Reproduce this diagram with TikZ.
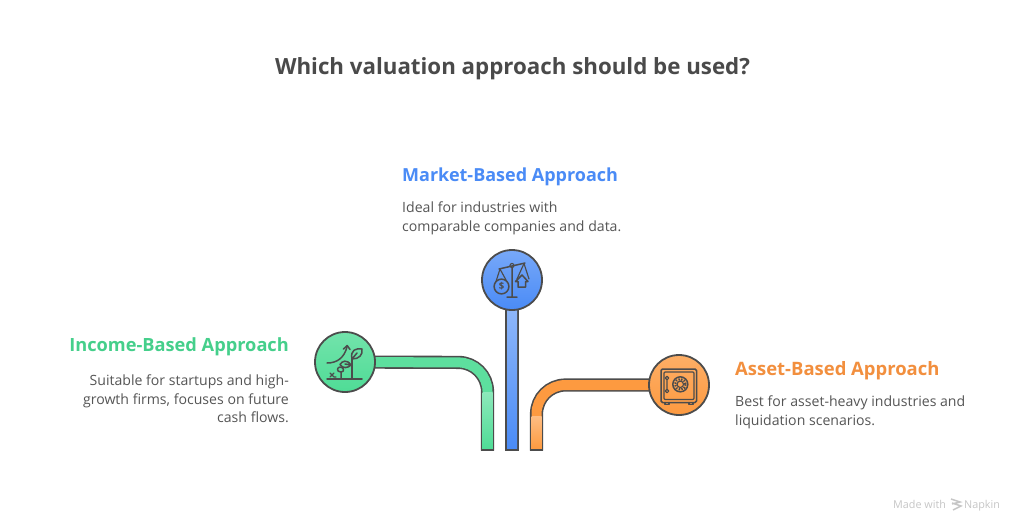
\documentclass[tikz,border=0pt]{standalone}
\usepackage{fontspec}
\setmainfont{Open Sans}
\definecolor{ink}{HTML}{4C4C4C}
\definecolor{titlec}{HTML}{4A4A4A}
\definecolor{bodyc}{HTML}{555555}
\definecolor{greenc}{HTML}{4FDC96}
\definecolor{bluec}{HTML}{4A8BF6}
\definecolor{orangec}{HTML}{FD9A40}
\definecolor{greenh}{HTML}{45CF8B}
\definecolor{orangeh}{HTML}{F28F3E}
\definecolor{markc}{HTML}{C6C6C6}
\tikzset{
  x=1pt,y=-1pt,
  headtext/.style={inner sep=0pt,font=\fontsize{#1}{22}\selectfont\bfseries},
  desctext/.style={inner sep=0pt,text=bodyc,font=\fontsize{14.1}{18.2}\selectfont},
  disc/.style={circle,minimum size=60pt,inner sep=0pt,draw=ink,line width=1.8pt},
  pipeout/.style={draw=ink,line width=13.2pt,rounded corners=29pt},
  pipein/.style={line width=10pt,rounded corners=29pt},
  pipefoot/.style={draw=ink,line width=1.8pt},
  icon/.style={draw=ink,line width=1.5pt,line cap=round,line join=round},
  fineicon/.style={draw=ink,line width=1.15pt,line cap=round,line join=round},
}
\begin{document}
\begin{tikzpicture}
\useasboundingbox[fill=white] (0,0) rectangle (1024,531);
% named ends and bends
\coordinate (gCorner) at (487.5,362.5);
\coordinate (gEnd) at (487.5,450.5);
\coordinate (gStubA) at (482.5,392);
\coordinate (gStubB) at (492.5,449);
\coordinate (gFootA) at (481,449.8);
\coordinate (gFootB) at (494,449.8);
\coordinate (bEnd) at (512,450.5);
\coordinate (bStubA) at (507,300);
\coordinate (bStubB) at (517,449);
\coordinate (bFootA) at (505.5,449.8);
\coordinate (bFootB) at (518.5,449.8);
\coordinate (oCorner) at (536.5,385);
\coordinate (oEnd) at (536.5,450.5);
\coordinate (oStubA) at (531.5,416);
\coordinate (oStubB) at (541.5,449);
\coordinate (oFootA) at (530,449.8);
\coordinate (oFootB) at (543,449.8);
\coordinate (gC) at (345,362);
\coordinate (bC) at (512,280);
\coordinate (oC) at (679,385);
% pipes
\draw[pipeout] (gC) -- (gCorner) -- (gEnd);
\draw[pipein,draw=greenc!92!white] (gC) -- (gCorner) -- (gEnd);
\shade[top color=greenc!65!white,bottom color=greenc] (gStubA) rectangle (gStubB);
\draw[pipefoot] (gFootA) -- (gFootB);
\draw[pipeout] (bC) -- (bEnd);
\shade[top color=bluec!60!white,bottom color=bluec] (bStubA) rectangle (bStubB);
\draw[pipefoot] (bFootA) -- (bFootB);
\draw[pipeout] (oC) -- (oCorner) -- (oEnd);
\draw[pipein,draw=orangec] (oC) -- (oCorner) -- (oEnd);
\shade[top color=orangec!65!white,bottom color=orangec] (oStubA) rectangle (oStubB);
\draw[pipefoot] (oFootA) -- (oFootB);
% discs
\node[disc,top color=greenc!80!white,bottom color=greenc] (income) at (gC) {};
\node[disc,top color=bluec!75!white,bottom color=bluec] (market) at (bC) {};
\node[disc,top color=orangec!80!white,bottom color=orangec] (asset) at (oC) {};
% scale icon
\begin{scope}[shift={(bC)}]
\draw[icon] (0,-12.5) -- (0,17) (-5,17) -- (5,17) (-13,-11) -- (13,-17);
\draw[fineicon] (0,-14.5) circle (2);
\draw[fineicon] (-12,-11) -- (-16,1.5) (-12,-11) -- (-6,0);
\draw[icon] (-10.5,6.5) circle (7.4);
\node[inner sep=0pt,text=ink,font=\fontsize{9.5}{9.5}\selectfont\bfseries] (dollar) at (-10.5,6.5) {\$};
\draw[fineicon] (12,-16.5) -- (5,-1) (12,-16.5) -- (17,-1);
\draw[icon] (3.5,1.5) -- (10,-5) -- (16,1.5) -- (13.5,1.5) -- (13.5,7) -- (6,7) -- (6,1.5) -- cycle;
\end{scope}
% plant icon
\begin{scope}[shift={(gC)}]
\draw[icon] (-18,17) -- (17,17) (7,17) -- (7,-3);
\draw[icon] (7,-3) .. controls (5,-12) and (11,-14) .. (17,-13) .. controls (18,-7) and (14,-3) .. (7,-3) (7,-3) -- (12,-9);
\draw[icon] (6,3) .. controls (2,-3) and (-3,-1) .. (-5,2.5) .. controls (-2,7) and (3,6) .. (6,3) -- (0,2);
\draw[icon] (-4,17) -- (-4,10) (-4,10) .. controls (-9,10) and (-8,5) .. (-5,5) .. controls (-1,5) and (0,10) .. (-4,10);
\draw[fineicon] (-15,11) -- (-11,15) (-15,15) -- (-11,11) (-11,15) -- (-9,15);
\draw[icon] (-18,1) .. controls (-8,1) and (-1,-4) .. (2,-15);
\draw[icon] (-1.5,-13) -- (2.2,-16.5) -- (5,-12.5);
\end{scope}
% safe icon
\begin{scope}[shift={(oC)}]
\draw[icon,rounded corners=1.5pt] (-18,-16) rectangle (17.5,17.5);
\draw[fineicon,rounded corners=1pt] (-15,-13) rectangle (15,14.5);
\draw[fineicon] (-14,17.5) -- (-14,19.5) -- (-10,19.5) -- (-10,17.5) (10,17.5) -- (10,19.5) -- (14,19.5) -- (14,17.5);
\draw[icon] (1.3,-0.7) circle (7.5);
\draw[fineicon] (1.3,-0.7) circle (3.2);
\draw[line width=2.2pt,draw=ink,dash pattern=on 1.4pt off 1.4pt] (1.3,-0.7) circle (5.3);
\draw[fineicon] (-12,-7) circle (1.8) (-12,6) circle (1.8) (-12,-5) -- (-12,4);
\end{scope}
% texts
\node[inner sep=0pt,anchor=base,text=titlec,font=\fontsize{22.3}{28}\selectfont\bfseries] (title) at (512.5,74) {Which valuation approach should be used?};
\node[headtext=18,anchor=base west,text=bluec] (marketh) at (402,181) {Market-Based Approach};
\node[desctext,anchor=north west,align=left] (marketd) at (402,202) {Ideal for industries with\\comparable companies and data.};
\node[headtext=18.2,anchor=base east,text=greenh] (incomeh) at (289,351) {Income-Based Approach};
\node[desctext,anchor=north east,align=right] (incomed) at (289,375) {Suitable for startups and high-\\growth firms, focuses on future\\cash flows.};
\node[headtext=18.45,anchor=base west,text=orangeh] (asseth) at (735,375) {Asset-Based Approach};
\node[desctext,anchor=north west,align=left] (assetd) at (735,396) {Best for asset-heavy industries and\\liquidation scenarios.};
% watermark
\node[inner sep=0pt,anchor=base west,text=markc,font=\fontsize{10.8}{12}\selectfont] (made) at (893,508) {Made with};
\node[inner sep=0pt,anchor=base west,text=markc,font=\fontsize{10.8}{12}\selectfont] (napkin) at (964,508) {Napkin};
\draw[markc,line width=1.5pt] (951,499) -- (960,502) -- (952,504) (952,503) -- (961,506) -- (953,510);
\end{tikzpicture}
\end{document}
